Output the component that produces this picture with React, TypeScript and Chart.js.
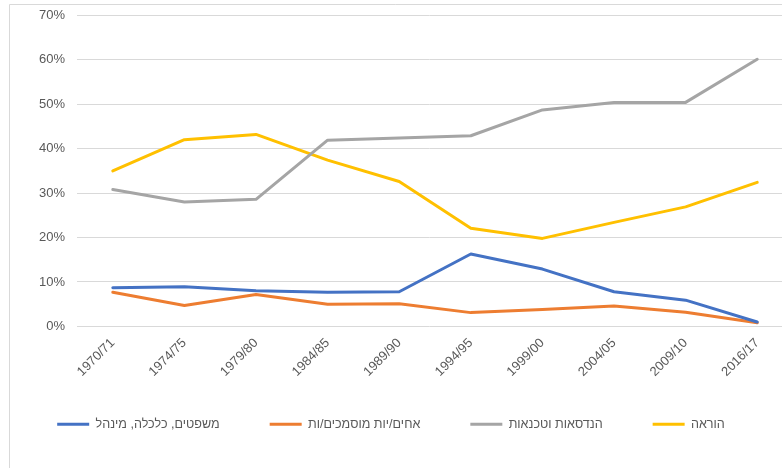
import React, { useEffect, useRef } from 'react';
import { Chart, registerables } from 'chart.js';

Chart.register(...registerables);

const categories = ['1970/71', '1974/75', '1979/80', '1984/85', '1989/90', '1994/95', '1999/00', '2004/05', '2009/10', '2016/17'];
const seriesNames = ['משפטים, כלכלה, מינהל', 'אחים/יות מוסמכים/ות', 'הנדסאות וטכנאות', 'הוראה'];
const lawEconMgmt = [8.7, 8.9, 8.0, 7.7, 7.8, 16.3, 12.9, 7.8, 5.9, 1.0];
const nursing = [7.7, 4.7, 7.2, 5.0, 5.1, 3.1, 3.8, 4.6, 3.2, 0.8];
const engineering = [30.8, 28.0, 28.6, 41.9, 42.4, 42.9, 48.7, 50.4, 50.4, 60.1];
const teaching = [35.0, 42.0, 43.2, 37.4, 32.6, 22.1, 19.8, 23.4, 26.9, 32.4];
const yTickValues = [0, 10, 20, 30, 40, 50, 60, 70];
const seriesColors = ['#4472C4', '#ED7D31', '#A5A5A5', '#FFC000'];

const FONT = "'Liberation Sans', Arial, sans-serif";
const W = 782;
const H = 468;

const framePlugin = {
  id: 'frame',
  beforeDraw(chart: any) {
    const ctx = chart.ctx;
    ctx.save();
    ctx.fillStyle = '#ffffff';
    ctx.fillRect(0, 0, chart.width, chart.height);
    ctx.strokeStyle = '#d9d9d9';
    ctx.lineWidth = 1;
    ctx.beginPath();
    ctx.moveTo(9.5, chart.height);
    ctx.lineTo(9.5, 4.5);
    ctx.lineTo(chart.width, 4.5);
    ctx.stroke();
    ctx.restore();
  },
};

export default function App() {
  const canvasRef = useRef<HTMLCanvasElement | null>(null);

  useEffect(() => {
    if (!canvasRef.current) return;
    const allSeries = [lawEconMgmt, nursing, engineering, teaching];
    const chart = new Chart(canvasRef.current, {
      type: 'line',
      data: {
        datasets: allSeries.map((vals, i) => ({
          label: seriesNames[i],
          data: vals.map((v, j) => ({ x: j, y: v })),
          borderColor: seriesColors[i],
          backgroundColor: seriesColors[i],
          borderWidth: 3,
          pointRadius: 0,
          pointHoverRadius: 0,
          tension: 0,
          fill: false,
          borderJoinStyle: 'round',
          borderCapStyle: 'round',
        })),
      },
      options: {
        animation: false,
        responsive: false,
        maintainAspectRatio: false,
        layout: { padding: { top: 15.3, right: 0, bottom: 27.5, left: 0 } },
        plugins: {
          tooltip: { enabled: false },
          legend: {
            position: 'bottom',
            labels: {
              boxWidth: 32,
              boxHeight: 3,
              padding: 50,
              color: '#595959',
              font: { family: FONT, size: 12.6 },
              generateLabels: (chart: any) =>
                chart.data.datasets.map((ds: any, i: number) => ({
                  text: ds.label,
                  fillStyle: ds.borderColor,
                  strokeStyle: ds.borderColor,
                  lineWidth: 0,
                  hidden: false,
                  datasetIndex: i,
                  fontColor: '#595959',
                })),
            },
          },
        },
        scales: {
          x: {
            type: 'linear',
            min: -0.5,
            max: 9.346,
            grid: { display: false },
            border: { display: false },
            afterBuildTicks: (scale: any) => {
              scale.ticks = categories.map((_, i) => ({ value: i }));
            },
            afterFit: (scale: any) => {
              scale.height = 41.5;
              scale._computeLabelArea = () => undefined;
            },
            ticks: {
              autoSkip: false,
              minRotation: 45,
              maxRotation: 45,
              padding: 1,
              color: '#595959',
              font: { family: FONT, size: 13 },
              callback: (v: any) => categories[v as number] ?? '',
            },
          },
          y: {
            min: 0,
            max: 70,
            afterBuildTicks: (scale: any) => {
              scale.ticks = yTickValues.map((v) => ({ value: v }));
            },
            afterFit: (scale: any) => {
              scale.width = 77;
              scale.paddingTop = 0;
              scale.paddingBottom = 0;
            },
            grid: { color: '#d9d9d9', lineWidth: 1, drawTicks: false },
            border: { display: false },
            ticks: {
              padding: 12,
              color: '#595959',
              font: { family: FONT, size: 13 },
              callback: (v: any) => v + '%',
            },
          },
        },
      },
      plugins: [framePlugin],
    } as any);
    return () => chart.destroy();
  }, []);

  return (
    <div style={{ position: 'fixed', left: 0, top: 0, width: W, height: H, overflow: 'hidden', background: '#fff' }}>
      <canvas ref={canvasRef} width={W} height={H} style={{ display: 'block', width: W, height: H }} />
    </div>
  );
}
